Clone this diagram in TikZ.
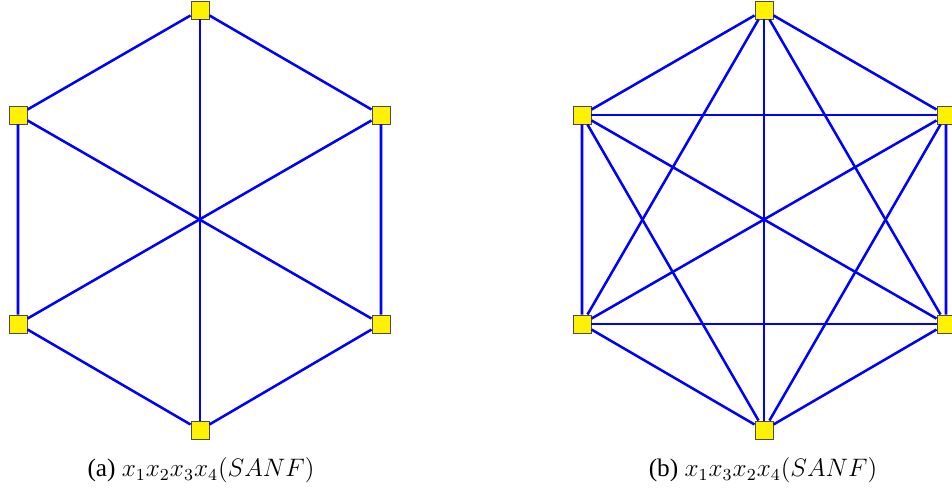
\documentclass[tikz,border=0pt]{standalone}
\usepackage{fontspec}
\setmainfont{Liberation Serif}
\tikzset{
  vtx/.style={draw=black!70, fill=yellow, minimum size=8.6pt, inner sep=0pt},
  edge/.style={draw=blue, line width=1.2pt},
  caption/.style={font=\fontsize{12}{14}\selectfont},
}
\begin{document}
\begin{tikzpicture}[x=0.475pt,y=-0.475pt]
\useasboundingbox (0,0) rectangle (952,492);
% (a)
\node[vtx] (a1) at (200,10) {};
\node[vtx] (a2) at (381,115) {};
\node[vtx] (a3) at (381,324) {};
\node[vtx] (a4) at (200,430) {};
\node[vtx] (a5) at (18,324) {};
\node[vtx] (a6) at (18,115) {};
\draw[edge] (a1) -- (a2) -- (a3) -- (a4) -- (a5) -- (a6) -- (a1);
\draw[edge] (a1) -- (a4);
\draw[edge] (a2) -- (a5);
\draw[edge] (a3) -- (a6);
\node[caption] (capa) at (201,470) {(a) \(x_1x_2x_3x_4(SANF)\)};
% (b)
\node[vtx] (b1) at (764,10) {};
\node[vtx] (b2) at (946,115) {};
\node[vtx] (b3) at (946,324) {};
\node[vtx] (b4) at (764,430) {};
\node[vtx] (b5) at (582,324) {};
\node[vtx] (b6) at (582,115) {};
\draw[edge] (b1) -- (b2) -- (b3) -- (b4) -- (b5) -- (b6) -- (b1);
\draw[edge] (b1) -- (b4);
\draw[edge] (b2) -- (b5);
\draw[edge] (b3) -- (b6);
\draw[edge] (b1) -- (b3);
\draw[edge] (b1) -- (b5);
\draw[edge] (b2) -- (b4);
\draw[edge] (b2) -- (b6);
\draw[edge] (b3) -- (b5);
\draw[edge] (b4) -- (b6);
\node[caption] (capb) at (763,470) {(b) \(x_1x_3x_2x_4(SANF)\)};
\end{tikzpicture}
\end{document}
